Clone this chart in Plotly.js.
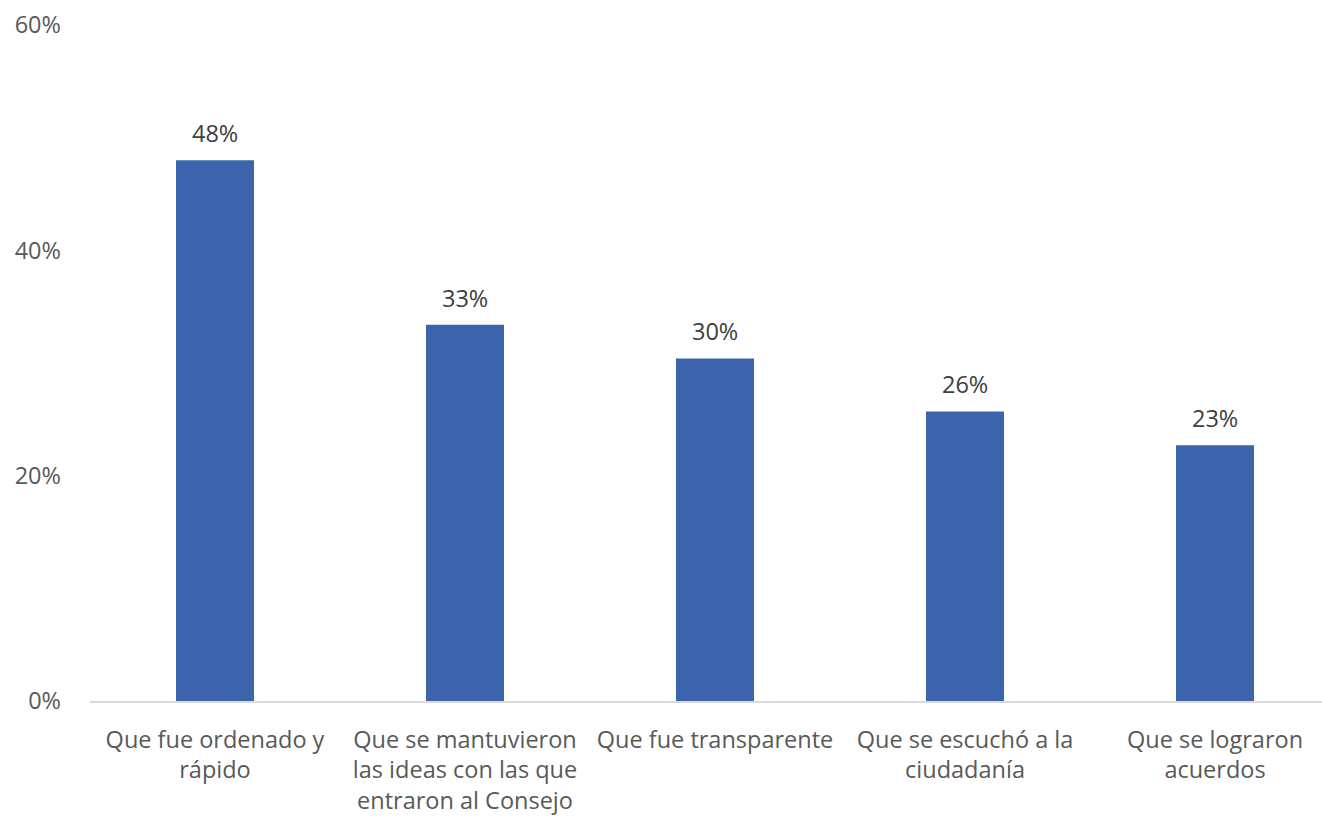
<!DOCTYPE html>
<html>
<head>
<meta charset="utf-8">
<script src="https://cdn.plot.ly/plotly-3.0.1.min.js"></script>
<style>html,body{margin:0;padding:0;background:#fff;}#chart{width:1322px;height:816px;}</style>
</head>
<body>
<div id="chart"></div>
<script>
const categories = [
  "Que fue ordenado y<br>rápido",
  "Que se mantuvieron<br>las ideas con las que<br>entraron al Consejo",
  "Que fue transparente",
  "Que se escuchó a la<br>ciudadanía",
  "Que se lograron<br>acuerdos"
];
const values = [48.0, 33.4, 30.4, 25.7, 22.7];
const yTickValues = [0, 20, 40, 60];
const yTickLabels = ["0%", "20%", "40%", "60%"];

const fontFamily = "'Open Sans', 'Noto Sans', sans-serif";

const annotations = categories.map((c, i) => ({
  x: c, y: values[i], xref: 'x', yref: 'y',
  text: Math.round(values[i]) + '%',
  showarrow: false, yanchor: 'bottom', yshift: 9,
  font: {family: fontFamily, size: 23.5, color: '#404040'}
}));

const trace = {
  type: 'bar',
  x: categories,
  y: values,
  marker: {color: '#3B64AD', line: {width: 0}},
  hoverinfo: 'none'
};

const layout = {
  width: 1322, height: 816,
  margin: {l: 90, r: 0, t: 25, b: 115},
  paper_bgcolor: '#fff', plot_bgcolor: '#fff',
  bargap: 0.688,
  showlegend: false,
  font: {family: fontFamily, size: 23.5, color: '#595959'},
  xaxis: {
    type: 'category',
    range: [-0.5, 4.428],
    showline: true, linecolor: '#D9D9D9', linewidth: 1.5,
    showgrid: false, zeroline: false,
    ticks: '', tickangle: 0,
    ticklabelstandoff: 17,
    tickfont: {family: fontFamily, size: 23.5, color: '#595959'}
  },
  yaxis: {
    range: [0, 60],
    tickvals: yTickValues, ticktext: yTickLabels,
    showline: false, showgrid: false, zeroline: false,
    ticks: '', ticklabelstandoff: 28,
    tickfont: {family: fontFamily, size: 23.5, color: '#595959'}
  },
  annotations: annotations
};

Plotly.newPlot('chart', [trace], layout, {displayModeBar: false, staticPlot: true});
</script>
</body>
</html>
